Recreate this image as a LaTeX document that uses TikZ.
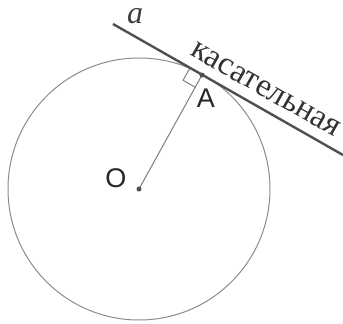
\documentclass[tikz,border=0pt]{standalone}
\usepackage{fontspec}
\newfontfamily\cyrserif{Liberation Serif}
\newfontfamily\lsans{Liberation Sans}
\usetikzlibrary{calc}
\definecolor{lineg}{HTML}{505050}
\definecolor{circg}{HTML}{8C8C8C}
\tikzset{
  tangentline/.style={draw=lineg, line width=2.4pt},
  circline/.style={draw=circg, line width=1pt},
  radline/.style={draw=circg!90!black, line width=1pt},
  pointdot/.style={circle, fill=lineg, inner sep=0pt, minimum size=5pt},
  ptlabel/.style={font=\lsans\fontsize{27}{27}\selectfont, text=black!85, inner sep=0pt},
}
\begin{document}
\begin{tikzpicture}[x=1pt,y=-1pt]
\useasboundingbox[fill=white] (0,0) rectangle (343,324);
\coordinate (O) at (139,189);
\coordinate (A) at (202,75);
\coordinate (a1) at (113,24);
\coordinate (a2) at (343,155);
\draw[circline] (O) circle (131pt);
\draw[radline] (O) -- (A);
\coordinate (p1) at ($(A)!14pt!(a1)$);
\coordinate (p3) at ($(A)!14pt!(O)$);
\coordinate (p2) at ($(p1)+(p3)-(A)$);
\draw[radline] (p1) -- (p2) -- (p3);
\draw[tangentline] (a1) -- (a2);
\node[pointdot] (Adot) at (A) {};
\node[pointdot] (Odot) at (O) {};
\node[ptlabel] (Alab) at (206,98) {A};
\node[ptlabel] (Olab) at (116,178) {O};
\node[inner sep=0pt, font=\cyrserif\fontsize{32}{32}\selectfont\itshape, text=black!75] (alab) at (135,16) {a};
\node[inner sep=0pt, anchor=base, font=\cyrserif\fontsize{33}{33}\selectfont, text=black!80, rotate=-29.7] (tlab) at (262,96) {касательная};
\end{tikzpicture}
\end{document}
